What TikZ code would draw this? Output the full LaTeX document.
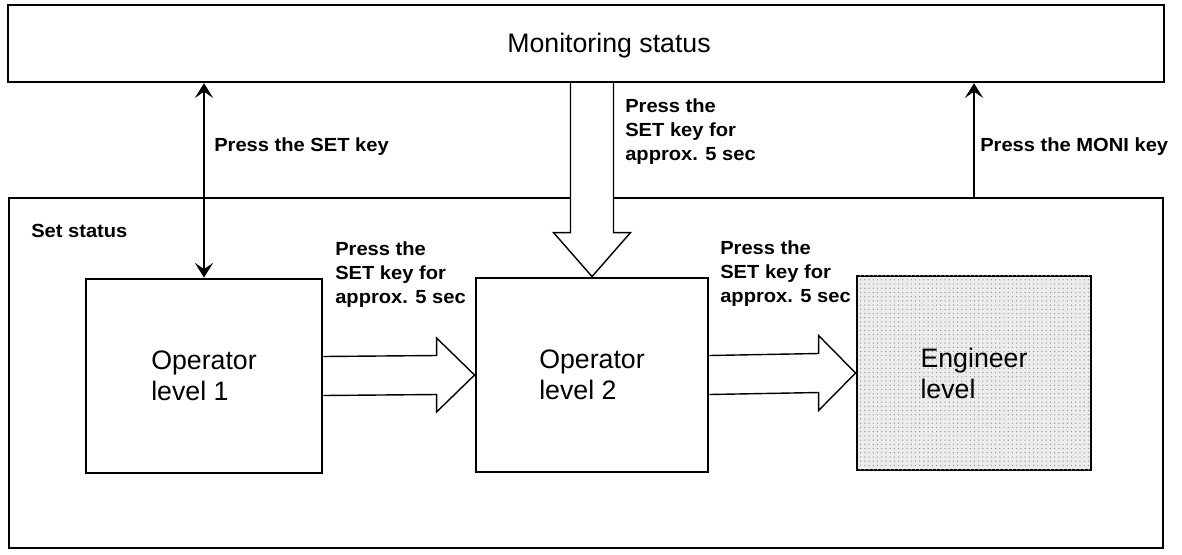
\documentclass[tikz,border=0pt]{standalone}
\usepackage{fontspec}
\setmainfont{Liberation Sans}
\newfontfamily\keyfont[FakeStretch=1.06]{Liberation Sans}
\usepackage{tikz}
\usetikzlibrary{arrows.meta,calc,patterns}

\begin{document}
\begin{tikzpicture}[x=0.025cm, y=-0.025cm,
    >={Stealth[length=10.5pt,width=13pt,inset=4.5pt]},
    panel/.style={draw, line width=1.7pt, inner sep=0pt},
    levelbox/.style={draw, line width=2pt, minimum width=5.85cm, minimum height=4.85cm,
        align=left, font=\fontsize{19}{22}\selectfont},
    keytext/.style={font=\keyfont\bfseries\fontsize{13.5}{17.4}\selectfont, align=left, inner sep=0pt},
    fatarrow/.style={draw, fill=white, line width=1pt, line join=miter},
    thinarrow/.style={line width=1.3pt}]
    \useasboundingbox (0,0) rectangle (1182,554);

    % 两个状态框
    \node[panel, minimum width=28.85cm, minimum height=8.75cm] (set) at (586,373) {};
    \node[panel, minimum width=28.9cm, minimum height=1.925cm] (moni) at (586,43.5) {};
    \node[font=\fontsize{19}{22}\selectfont, anchor=base west, inner sep=0pt] (monitext) at (507,52) {Monitoring status};
    \node[keytext, anchor=base west] (settext) at (31,237) {Set status};

    % 三个级别
    \node[levelbox, minimum width=5.9cm] (op1) at (204,376) {Operator\\level 1};
    \node[levelbox, minimum width=5.8cm] (op2) at (592,375) {Operator\\level 2};
    \node[levelbox, fill=gray!15, postaction={pattern=dots, pattern color=gray!80}] (eng) at (974,373) {Engineer\\level};

    % 空心粗箭头
    \draw[fatarrow] ($(op2.north |- moni.south)+(-21.5,0)$) -- ($(op2.north)+(-21.5,-44)$)
        -- ($(op2.north)+(-38.5,-44)$) -- (op2.north) -- ($(op2.north)+(38.5,-44)$)
        -- ($(op2.north)+(21.5,-44)$) -- ($(op2.north |- moni.south)+(21.5,0)$);
    \draw[fatarrow] ($(op1.east)+(0,-19.5)$) -- ($(op2.west)+(-38,-19.5)$)
        -- ($(op2.west)+(-38,-37)$) -- (op2.west) -- ($(op2.west)+(-38,37)$)
        -- ($(op2.west)+(-38,19.5)$) -- ($(op1.east)+(0,19.5)$);
    \draw[fatarrow] ($(op2.east)+(0,-19.5)$) -- ($(eng.west)+(-37,-19.5)$)
        -- ($(eng.west)+(-37,-37.5)$) -- (eng.west) -- ($(eng.west)+(-37,37.5)$)
        -- ($(eng.west)+(-37,19.5)$) -- ($(op2.east)+(0,19.5)$);

    % 细箭头
    \draw[thinarrow, <->] (op1.north) -- (op1.north |- moni.south);
    \draw[thinarrow, ->] (eng.north |- set.north) -- (eng.north |- moni.south);

    % 标注
    \node[keytext, anchor=base west] (setkey) at (214,151) {Press the SET key};
    \node[keytext, anchor=base west] (monikey) at (980,151) {Press the MONI key};
    \node[keytext, anchor=north west] (hold0) at (625,98) {Press the\\SET key for\\approx. 5 sec};
    \node[keytext, anchor=north west] (hold1) at (335,241) {Press the\\SET key for\\approx. 5 sec};
    \node[keytext, anchor=north west] (hold2) at (720,240) {Press the\\SET key for\\approx. 5 sec};
\end{tikzpicture}
\end{document}
